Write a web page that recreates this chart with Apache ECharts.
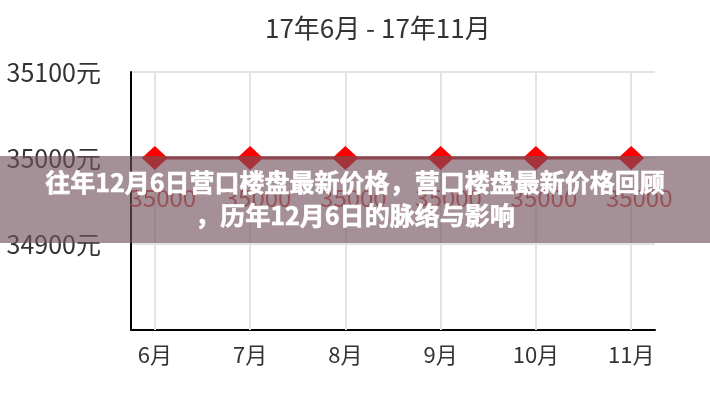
<!DOCTYPE html>
<html>
<head>
    <meta charset="UTF-8">
    <title>营口楼盘价格</title>
<script src="https://cdn.jsdelivr.net/npm/echarts@6/dist/echarts.min.js"></script>
<style>
    html, body { margin: 0; padding: 0; background: #fff; }
</style>
</head>
<body>
    <div id="main" style="width: 710px;height:400px;"></div>
    <script type="text/javascript">
        // 数据
        var months = [6, 7, 8, 9, 10, 11];
        var prices = [35000, 35000, 35000, 35000, 35000, 35000];
        var yTicks = [34800, 35100, 100]; // min, max, interval
        var titleText = '17年6月 - 17年11月';
        var bannerLines = ['往年12月6日营口楼盘最新价格，营口楼盘最新价格回顾', '，历年12月6日的脉络与影响'];

        var font = '"Noto Sans CJK SC", "Noto Sans", sans-serif';
        var myChart = echarts.init(document.getElementById('main'));
        var option = {
            backgroundColor: '#fff',
            animation: false,
            title: {
                text: titleText,
                left: 260,
                top: 10,
                textStyle: { color: '#333', fontSize: 26, fontWeight: 'normal', fontFamily: font }
            },
            grid: { left: 131, right: 55, top: 72, bottom: 70 },
            xAxis: {
                type: 'value',
                min: 5.75,
                max: 11.25,
                splitNumber: 5,
                axisLine: { lineStyle: { color: '#000', width: 2 } },
                axisTick: { show: false },
                axisLabel: {
                    color: '#333', fontSize: 22, fontFamily: font, margin: 14,
                    formatter: function (v) { return Number.isInteger(v) ? v + '月' : ''; }
                },
                splitLine: { show: false }
            },
            yAxis: {
                type: 'value',
                min: yTicks[0],
                max: yTicks[1],
                interval: yTicks[2],
                axisLine: { show: true, lineStyle: { color: '#000', width: 2 } },
                axisTick: { show: false },
                axisLabel: {
                    color: '#333', fontSize: 25, fontFamily: font, margin: 30,
                    showMinLabel: false,
                    formatter: function (v) { return v + '元'; }
                },
                splitLine: { show: true, lineStyle: { color: '#e3e3e3', width: 2 } }
            },
            series: [{
                type: 'line',
                z: 3,
                data: months.map(function (m, i) { return [m, prices[i]]; }),
                symbol: 'diamond',
                symbolSize: [26, 24],
                lineStyle: { color: '#c8333b', width: 3 },
                itemStyle: { color: '#f00' },
                label: {
                    show: true,
                    position: 'bottom',
                    distance: 16,
                    offset: [8, 0],
                    color: '#d9534f',
                    fontSize: 24,
                    fontFamily: font
                },
                // 竖向网格线
                markLine: {
                    silent: true,
                    symbol: 'none',
                    label: { show: false },
                    z: 1,
                    lineStyle: { color: '#e3e3e3', width: 2, type: 'solid' },
                    data: months.map(function (m) { return { xAxis: m }; })
                }
            }],
            graphic: [{
                type: 'rect',
                z: 100,
                shape: { x: 0, y: 156, width: 710, height: 87 },
                style: { fill: 'rgba(112,82,90,0.64)' }
            }, {
                type: 'text',
                z: 101,
                left: 'center',
                top: 166,
                style: {
                    text: bannerLines.join('\n'),
                    fill: '#fff',
                    stroke: '#fff',
                    lineWidth: 0.6,
                    font: 'bold 25px ' + font,
                    textAlign: 'center',
                    lineHeight: 33
                }
            }]
        };
        myChart.setOption(option);
    </script>
</body>
</html>
